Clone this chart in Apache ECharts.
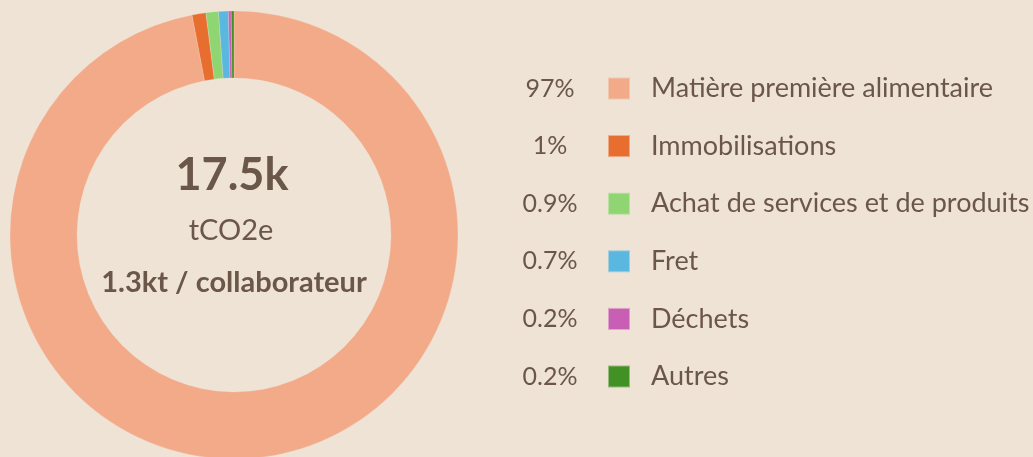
<!DOCTYPE html>
<html>
<head>
<meta charset="utf-8">
<script src="https://cdn.jsdelivr.net/npm/echarts@6/dist/echarts.min.js"></script>
<style>
  html, body { margin: 0; padding: 0; background: #efe3d6; }
  #chart { width: 1033px; height: 457px; }
</style>
</head>
<body>
<div id="chart"></div>
<script>
// données
const categories = ['Matière première alimentaire', 'Immobilisations', 'Achat de services et de produits', 'Fret', 'Déchets', 'Autres']
const values = [97, 1, 0.9, 0.7, 0.2, 0.2]
const percentLabels = ['97%', '1%', '0.9%', '0.7%', '0.2%', '0.2%']
const colors = ['#f2aa88', '#e86e30', '#8fd672', '#5ab8e0', '#c85fb4', '#429125']

const textColor = '#6b564a'
const fontFamily = 'Lato, "Open Sans", sans-serif'
const rowH = 28
const rowGap = 57.6 - rowH

const chart = echarts.init(document.getElementById('chart'))

const pieData = categories.map((name, i) => ({
  name: name,
  value: values[i],
  itemStyle: { color: colors[i] }
}))

chart.setOption({
  backgroundColor: '#efe3d6',
  animation: false,
  title: [
    {
      text: '17.5k',
      left: 232, top: 152.5, padding: 0,
      textAlign: 'center',
      textStyle: { color: textColor, fontSize: 45, fontWeight: 'bold', fontFamily: fontFamily }
    },
    {
      text: 'tCO2e',
      left: 231, top: 216.5, padding: 0,
      textAlign: 'center',
      textStyle: { color: textColor, fontSize: 29, fontWeight: 'normal', fontFamily: fontFamily }
    },
    {
      text: '1.3kt / collaborateur',
      left: 234, top: 268, padding: 0,
      textAlign: 'center',
      textStyle: { color: textColor, fontSize: 29, fontWeight: 'bold', fontFamily: fontFamily }
    }
  ],
  legend: [
    {
      // légende avec carrés
      orient: 'vertical',
      left: 607, top: 74.5, padding: 0,
      icon: 'rect',
      itemWidth: 22, itemHeight: 22,
      itemGap: rowGap,
      selectedMode: false,
      data: categories,
      formatter: name => '{t|' + name + '}',
      textStyle: {
        color: textColor, fontFamily: fontFamily,
        rich: { t: { fontSize: 27, height: rowH, lineHeight: rowH, padding: [0, 0, 0, 16], color: textColor, fontFamily: fontFamily } }
      }
    },
    {
      // pourcentages à gauche
      orient: 'vertical',
      left: 508, top: 74.5, padding: 0,
      icon: 'none',
      itemWidth: 0, itemHeight: 22,
      itemGap: rowGap,
      selectedMode: false,
      data: categories,
      formatter: name => '{p|' + percentLabels[categories.indexOf(name)] + '}',
      textStyle: {
        color: textColor, fontFamily: fontFamily,
        rich: { p: { fontSize: 25, width: 74, align: 'center', height: rowH, lineHeight: rowH, color: textColor, fontFamily: fontFamily } }
      }
    }
  ],
  series: [{
    type: 'pie',
    center: [234, 235],
    radius: [157, 224],
    startAngle: 90,
    clockwise: true,
    label: { show: false },
    labelLine: { show: false },
    silent: true,
    itemStyle: { borderColor: 'rgba(239,227,214,0.5)', borderWidth: 0.5 },
    data: pieData
  }]
})

window.addEventListener('resize', () => chart.resize())
</script>
</body>
</html>
